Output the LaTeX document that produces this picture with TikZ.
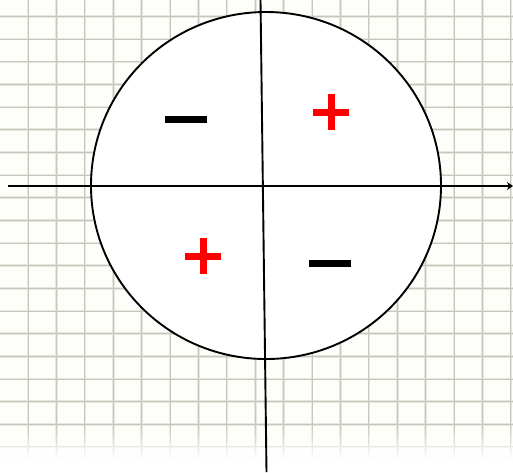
\documentclass[tikz,border=0pt]{standalone}
\usetikzlibrary{arrows.meta,fadings}
\definecolor{paper}{RGB}{253,253,250}
\definecolor{gridsoft}{RGB}{230,231,223}
\definecolor{gridcore}{RGB}{198,200,190}
\definecolor{signred}{RGB}{255,0,0}
\tikzset{
  gridwide/.style={gridsoft,line width=2.6pt},
  gridthin/.style={gridcore,line width=0.8pt},
  axisline/.style={black,line width=1.9pt},
}
\begin{document}
\begin{tikzpicture}[x=1pt,y=-1pt]
\useasboundingbox (0,0) rectangle (513,472);
\fill[paper] (0,0) rectangle (513,472);
% grid
\begin{scope}
\clip (0,0) rectangle (513,458);
\foreach \k in {0,...,18} {
  \draw[gridwide] ({28+28.4*\k},0) -- ({28+28.4*\k},472);
}
\foreach \k in {0,...,19} {
  \draw[gridwide] (0,{16.5+22.65*\k}) -- (513,{16.5+22.65*\k});
}
\foreach \k in {0,...,18} {
  \draw[gridthin] ({28+28.4*\k},0) -- ({28+28.4*\k},472);
}
\foreach \k in {0,...,19} {
  \draw[gridthin] (0,{16.5+22.65*\k}) -- (513,{16.5+22.65*\k});
}
\end{scope}
\fill[white,path fading=north] (0,425) rectangle (513,460);
\fill[white] (0,459) rectangle (513,472);
% circle
\coordinate (c) at (266,185.5);
\filldraw[fill=white,draw=black,line width=1.9pt] (c) ellipse [x radius=175,y radius=173.5];
% axes
\coordinate (xl) at (8,186);
\coordinate (xr) at (513,186);
\coordinate (yt) at (260.5,0);
\coordinate (yb) at (266.5,472);
\draw[axisline,-{Stealth[length=6pt,width=8pt]}] (xl) -- (xr);
\draw[axisline] (yt) -- (yb);
% signs
\fill[black] (165,116) rectangle (207,122.5);
\fill[black] (309,260) rectangle (351,266.5);
\fill[signred] (313,109) rectangle (349,115.5);
\fill[signred] (328,94) rectangle (334.5,130);
\fill[signred] (185,253) rectangle (221,259.5);
\fill[signred] (200,238) rectangle (206.5,274);
\end{tikzpicture}
\end{document}
